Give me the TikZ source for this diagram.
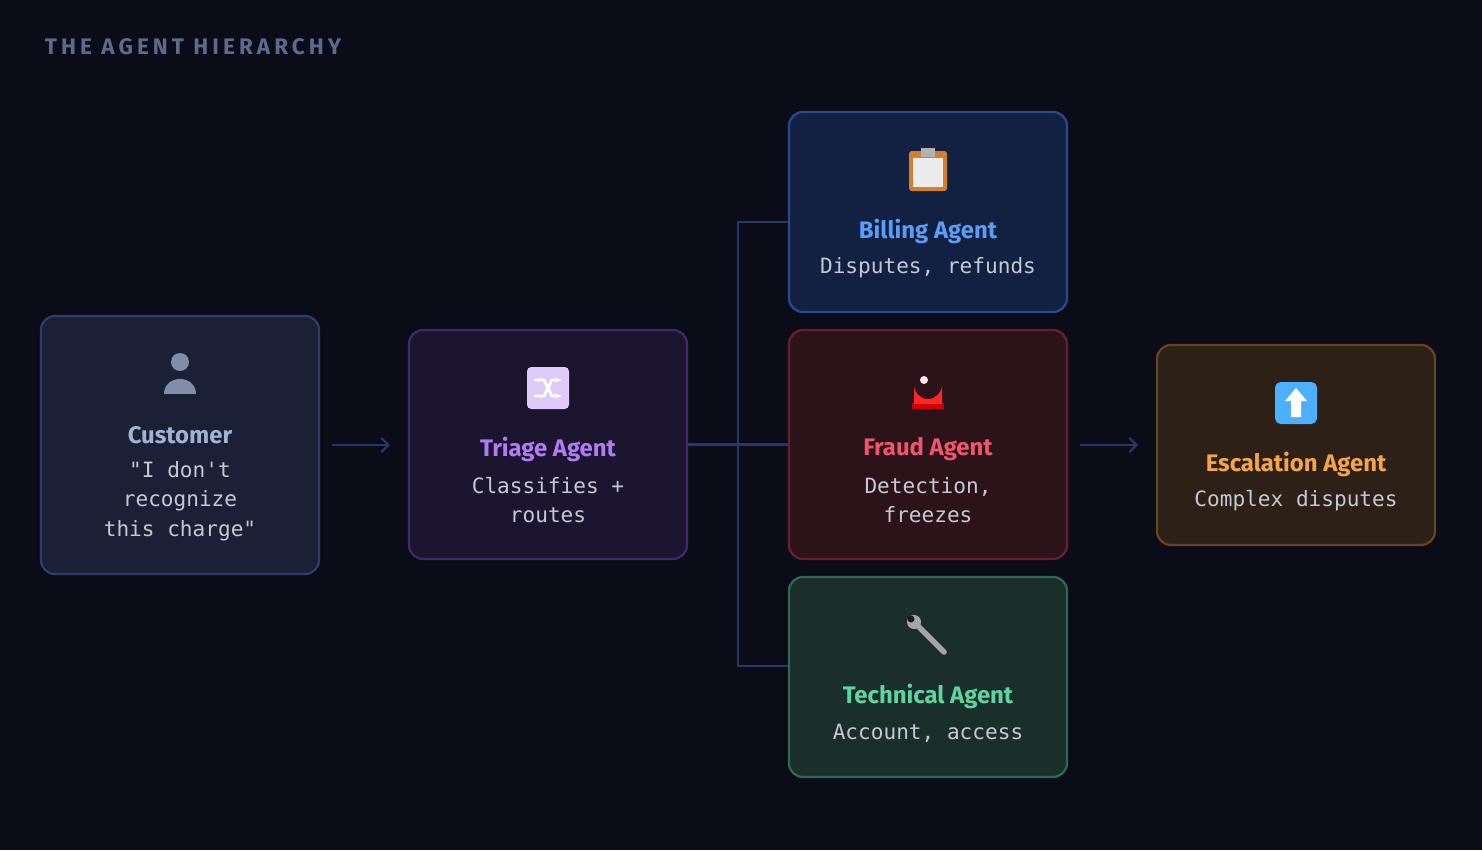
\documentclass[tikz,border=0pt]{standalone}
\usepackage{fontspec}
\setmainfont{Fira Sans}
\setmonofont{DejaVu Sans Mono}
\newfontfamily\spacedfont[LetterSpace=18]{Fira Sans}
\usetikzlibrary{arrows.meta}
\definecolor{bg}{HTML}{0A0D17}
\definecolor{wire}{HTML}{2C3566}
\definecolor{bodytxt}{HTML}{C5C9D4}
\definecolor{custfill}{HTML}{1A2036}\definecolor{custline}{HTML}{2F3B6A}\definecolor{custtxt}{HTML}{A3B2D0}
\definecolor{trifill}{HTML}{1C1530}\definecolor{triline}{HTML}{3E2A6C}\definecolor{tritxt}{HTML}{B07CF3}
\definecolor{bilfill}{HTML}{122041}\definecolor{billine}{HTML}{29498E}\definecolor{biltxt}{HTML}{5C9CF5}
\definecolor{frafill}{HTML}{2C131A}\definecolor{fraline}{HTML}{6A1F31}\definecolor{fratxt}{HTML}{F0566B}
\definecolor{tecfill}{HTML}{1A2E2A}\definecolor{tecline}{HTML}{2B6A4B}\definecolor{tectxt}{HTML}{5FD4A1}
\definecolor{escfill}{HTML}{2D2016}\definecolor{escline}{HTML}{6B4120}\definecolor{esctxt}{HTML}{F4A54B}
\tikzset{
  box/.style={draw=#1line, fill=#1fill, line width=1.6pt, rounded corners=0.35cm,
    minimum width=6.95cm},
  head/.style={font=\fontsize{17}{20}\selectfont\bfseries, text=#1txt},
  body/.style={font=\ttfamily\fontsize{15}{21}\selectfont, text=bodytxt, align=center},
  wire/.style={draw=wire, line width=1.6pt},
}
\begin{document}
\begin{tikzpicture}[x=0.025cm, y=-0.025cm]
\fill[bg] (0,0) rectangle (1482,850);
\node (title) at (40,47) [anchor=west, text=wire!75!white, font=\spacedfont\fontsize{16}{18}\selectfont\bfseries] {THE AGENT HIERARCHY};

% boxes
\node (cust) at (180,445) [box=cust, minimum height=6.45cm] {};
\node (tri)  at (548,444.5) [box=tri, minimum height=5.72cm] {};
\node (bil)  at (928,212) [box=bil, minimum height=5cm] {};
\node (fra)  at (928,444.5) [box=fra, minimum height=5.72cm] {};
\node (tec)  at (928,677) [box=tec, minimum height=5cm] {};
\node (esc)  at (1296,445) [box=esc, minimum height=5cm] {};

% texts
\node (custh) at (180,435) [head=cust] {Customer};
\node (custb) at (180,501) [body] {"I don't\\recognize\\this charge"};
\node (trih) at (548,449) [head=tri] {Triage Agent};
\node (trib) at (548,500) [body] {Classifies +\\routes};
\node (bilh) at (928,231) [head=bil] {Billing Agent};
\node (bilb) at (928,268) [body] {Disputes, refunds};
\node (frah) at (928,449) [head=fra] {Fraud Agent};
\node (frab) at (928,500) [body] {Detection,\\freezes};
\node (tech) at (928,696) [head=tec] {Technical Agent};
\node (tecb) at (928,733) [body] {Account, access};
\node (esch) at (1296,464) [head=esc] {Escalation Agent};
\node (escb) at (1296,501) [body] {Complex disputes};

% icons
\fill[custtxt!80!black] (180,362) circle (9);
\fill[custtxt!80!black] (164,394) .. controls (164,374) and (196,374) .. (196,394) -- cycle;
\fill[tritxt!40!white, rounded corners=3] (527,367) rectangle (569,409);
\draw[white, line width=2pt, -{Stealth[length=5pt]}] (534,380) -- (544,380) -- (552,396) -- (562,396);
\draw[white, line width=2pt, -{Stealth[length=5pt]}] (534,396) -- (544,396) -- (552,380) -- (562,380);
\fill[brown!70!orange, rounded corners=2] (909,151) rectangle (947,191);
\fill[gray!15] (913,158) rectangle (943,187);
\fill[gray!60] (921,148) rectangle (935,157);
\fill[red!80!black] (912,403) rectangle (944,409);
\fill[red!85] (914,404) -- (914,385) arc (180:0:14) -- (942,404) -- cycle;
\fill[white!90!red] (924,380) circle (4);
\draw[gray!70, line width=4pt, line cap=round] (914,622) -- (944,652);
\fill[gray!70] (914,622) circle (7);
\fill[bg!50!tecfill] (911,619) circle (3.5);
\fill[blue!45!cyan!70!white, rounded corners=4] (1275,382) rectangle (1317,424);
\fill[white] (1296,388) -- (1307,401) -- (1301,401) -- (1301,417) -- (1291,417) -- (1291,401) -- (1285,401) -- cycle;

% connectors
\coordinate (j) at (738,444.5);
\draw[wire, -{Straight Barb[length=5pt]}] (332,445) -- (390,445);
\draw[wire] (tri.east) -- (fra.west);
\draw[wire] (bil.west |- 0,222) -- (738,222) -- (738,666) -- (tec.west |- 0,666);
\draw[wire, -{Straight Barb[length=5pt]}] (1080,445) -- (1138,445);
\end{tikzpicture}
\end{document}
